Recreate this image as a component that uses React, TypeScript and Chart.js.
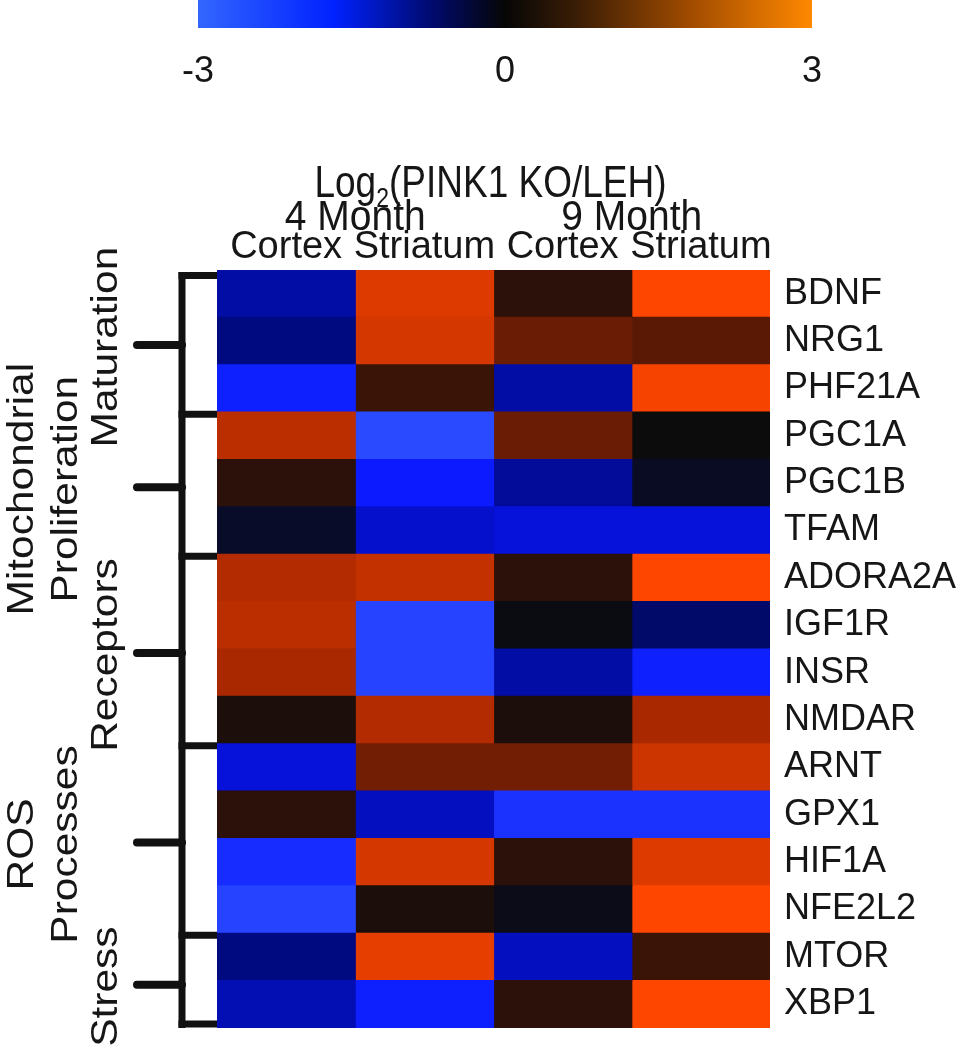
import React, { useEffect, useRef } from 'react';
import { Chart, registerables } from 'chart.js';

Chart.register(...registerables);

// ---------- data ----------
const genes = ['BDNF', 'NRG1', 'PHF21A', 'PGC1A', 'PGC1B', 'TFAM', 'ADORA2A', 'IGF1R', 'INSR', 'NMDAR', 'ARNT', 'GPX1', 'HIF1A', 'NFE2L2', 'MTOR', 'XBP1'];
const columnLabels = ['Cortex', 'Striatum', 'Cortex', 'Striatum'];
const ageLabels = ['4 Month', '9 Month'];
const cortex4Month = [-1.3, -1.0, -2.2, 2.2, 0.4, -0.25, 2.1, 2.2, 2.0, 0.2, -1.7, 0.4, -2.4, -2.8, -1.0, -1.4];
const striatum4Month = [2.6, 2.5, 0.6, -2.9, -2.1, -1.6, 2.3, -2.8, -2.8, 2.1, 1.3, -1.5, 2.5, 0.2, 2.7, -2.2];
const cortex9Month = [0.4, 1.2, -1.3, 1.2, -1.2, -1.7, 0.4, -0.05, -1.3, 0.2, 1.3, -2.5, 0.4, -0.1, -1.5, 0.4];
const striatum9Month = [3.0, 1.0, 2.9, 0.0, -0.2, -1.7, 3.0, -0.8, -2.2, 2.0, 2.4, -2.5, 2.6, 3.0, 0.6, 3.0];
const colorbarTicks = [-3, 0, 3];
const groupNames = [['Maturation'], ['Mitochondrial', 'Proliferation'], ['Receptors'], ['ROS', 'Processes'], ['Stress']];
const groupSizes = [3, 3, 4, 4, 2];

// ---------- styles ----------
const FONT = "'Liberation Sans', Arial, Helvetica, sans-serif";
const TEXT = '#161616';
const NEG_STOPS: [number, number[]][] = [[0, [12, 12, 12]], [1, [0, 10, 128]], [2, [8, 20, 255]], [3, [45, 80, 255]]];
const POS_STOPS: [number, number[]][] = [[0, [12, 12, 12]], [1, [90, 25, 5]], [2, [170, 40, 0]], [3, [255, 70, 0]]];
const CB_STOPS: [number, string][] = [[0, 'rgb(51,102,255)'], [0.22, 'rgb(0,34,255)'], [0.38, 'rgb(0,10,110)'], [0.5, 'rgb(6,6,6)'], [0.62, 'rgb(60,30,5)'], [0.8, 'rgb(160,75,0)'], [1, 'rgb(255,136,0)']];

function valueToColor(v: number): string {
  const stops = v < 0 ? NEG_STOPS : POS_STOPS;
  const a = Math.min(3, Math.abs(v));
  for (let i = 1; i < stops.length; i++) {
    if (a <= stops[i][0]) {
      const [p0, c0] = stops[i - 1];
      const [p1, c1] = stops[i];
      const t = (a - p0) / (p1 - p0);
      const c = c0.map((x, k) => Math.round(x + (c1[k] - x) * t));
      return `rgb(${c[0]},${c[1]},${c[2]})`;
    }
  }
  const c = stops[stops.length - 1][1];
  return `rgb(${c[0]},${c[1]},${c[2]})`;
}

function stretchedText(ctx: any, text: string, x: number, y: number, sy: number) {
  ctx.save();
  ctx.translate(x, y);
  ctx.scale(1, sy);
  ctx.fillText(text, 0, 0);
  ctx.restore();
}

const decorPlugin = {
  id: 'decor',
  afterDraw(chart: any) {
    const { ctx, chartArea } = chart;
    const ys = chart.scales.y;
    const xs = chart.scales.x;
    ctx.save();

    // colour bar
    const cbL = chartArea.left - 19, cbR = chartArea.right + 42, cbT = 0, cbB = 28;
    const g = ctx.createLinearGradient(cbL, 0, cbR, 0);
    CB_STOPS.forEach(([o, c]) => g.addColorStop(o, c));
    ctx.fillStyle = g;
    ctx.fillRect(cbL, cbT, cbR - cbL, cbB - cbT);
    ctx.fillStyle = TEXT;
    ctx.font = `36px ${FONT}`;
    ctx.textAlign = 'center';
    ctx.textBaseline = 'alphabetic';
    const t0 = colorbarTicks[0], t1 = colorbarTicks[colorbarTicks.length - 1];
    colorbarTicks.forEach((v) => {
      const x = cbL + ((v - t0) / (t1 - t0)) * (cbR - cbL);
      stretchedText(ctx, String(v), x, 82, 1.05);
    });

    // title Log2(PINK1 KO/LEH)
    const cx = (chartArea.left + chartArea.right) / 2 - 3;
    ctx.textAlign = 'left';
    ctx.font = `37px ${FONT}`;
    const w1 = ctx.measureText('Log').width;
    const w3 = ctx.measureText('(PINK1 KO/LEH)').width;
    ctx.font = `23px ${FONT}`;
    const w2 = ctx.measureText('2').width;
    let x = cx - (w1 + w2 + w3) / 2;
    ctx.font = `37px ${FONT}`;
    stretchedText(ctx, 'Log', x, 197, 1.2);
    x += w1;
    ctx.font = `23px ${FONT}`;
    stretchedText(ctx, '2', x, 207, 1.2);
    x += w2;
    ctx.font = `37px ${FONT}`;
    stretchedText(ctx, '(PINK1 KO/LEH)', x, 197, 1.2);

    // age labels
    ctx.textAlign = 'center';
    ctx.font = `39px ${FONT}`;
    ageLabels.forEach((t, i) => {
      stretchedText(ctx, t, xs.getPixelForValue(2 * i + 1), 230, 1.1);
    });

    // bracket
    const vx = 182;
    ctx.strokeStyle = '#111';
    ctx.lineCap = 'butt';
    ctx.lineWidth = 7;
    const top = chartArea.top, bottom = chartArea.bottom;
    ctx.beginPath();
    ctx.moveTo(vx, top + 2);
    ctx.lineTo(vx, bottom);
    ctx.stroke();
    let start = 0;
    const bounds = [0];
    groupSizes.forEach((s) => { start += s; bounds.push(start); });
    bounds.forEach((b, i) => {
      let y = ys.getPixelForValue(b - 0.5);
      if (i === 0) y += 5.5;
      else if (i === bounds.length - 1) y -= 4;
      else y += 2;
      ctx.beginPath();
      ctx.moveTo(vx - 3.5, y);
      ctx.lineTo(chartArea.left, y);
      ctx.stroke();
    });

    // group ticks and labels
    start = 0;
    groupSizes.forEach((s, gi) => {
      const yc = ys.getPixelForValue(start + s / 2 - 0.5) + 4;
      start += s;
      ctx.lineWidth = 8;
      ctx.lineCap = 'round';
      ctx.beginPath();
      ctx.moveTo(137, yc);
      ctx.lineTo(vx, yc);
      ctx.stroke();
      const names = groupNames[gi];
      const xsBase = names.length === 1 ? [117] : [33, 77];
      ctx.fillStyle = TEXT;
      ctx.font = `36px ${FONT}`;
      ctx.textAlign = 'center';
      ctx.textBaseline = 'alphabetic';
      names.forEach((n, k) => {
        ctx.save();
        ctx.translate(xsBase[k], yc + 2);
        ctx.rotate(-Math.PI / 2);
        ctx.scale(1.18, 1);
        ctx.fillText(n, 0, 0);
        ctx.restore();
      });
    });

    ctx.restore();
  },
};

export default function App() {
  const ref = useRef<HTMLCanvasElement>(null);

  useEffect(() => {
    const canvas = ref.current;
    if (!canvas) return;
    const cols = [cortex4Month, striatum4Month, cortex9Month, striatum9Month];
    const datasets = cols.map((vals, c) => ({
      label: `${ageLabels[c >> 1]} ${columnLabels[c]}`,
      data: vals.map(() => [c, c + 1]),
      backgroundColor: vals.map(valueToColor),
      borderWidth: 0,
      barPercentage: 1,
      categoryPercentage: 1,
      grouped: false,
      inflateAmount: 0.6,
    }));

    const chart = new Chart(canvas, {
      type: 'bar',
      data: { labels: genes, datasets: datasets as any },
      options: {
        indexAxis: 'y',
        responsive: false,
        maintainAspectRatio: false,
        animation: false,
        devicePixelRatio: 1,
        layout: { padding: { left: 217, right: 0, top: 220, bottom: 22 } },
        plugins: { legend: { display: false }, title: { display: false }, tooltip: { enabled: false } },
        scales: {
          x: { type: 'linear', min: 0, max: 4, display: false },
          top: {
            type: 'category',
            labels: columnLabels,
            position: 'top',
            offset: true,
            grid: { display: false, drawTicks: false },
            border: { display: false },
            ticks: { color: TEXT, font: { family: FONT, size: 38 }, padding: 0, maxRotation: 0, autoSkip: false },
            afterFit: (s: any) => { s.height = 50; s.paddingLeft = 0; s.paddingRight = 0; },
          } as any,
          y: {
            type: 'category',
            position: 'right',
            offset: true,
            grid: { display: false, drawTicks: false },
            border: { display: false },
            ticks: { color: TEXT, font: { family: FONT, size: 36 }, padding: 14, autoSkip: false },
            afterFit: (s: any) => { s.width = 191; s.paddingTop = 0; s.paddingBottom = 0; },
          },
        },
      },
      plugins: [decorPlugin],
    });
    return () => chart.destroy();
  }, []);

  return (
    <div style={{ position: 'absolute', left: 0, top: 0, width: 961, height: 1050, background: '#fff' }}>
      <canvas ref={ref} width={961} height={1050} style={{ display: 'block' }} />
    </div>
  );
}
